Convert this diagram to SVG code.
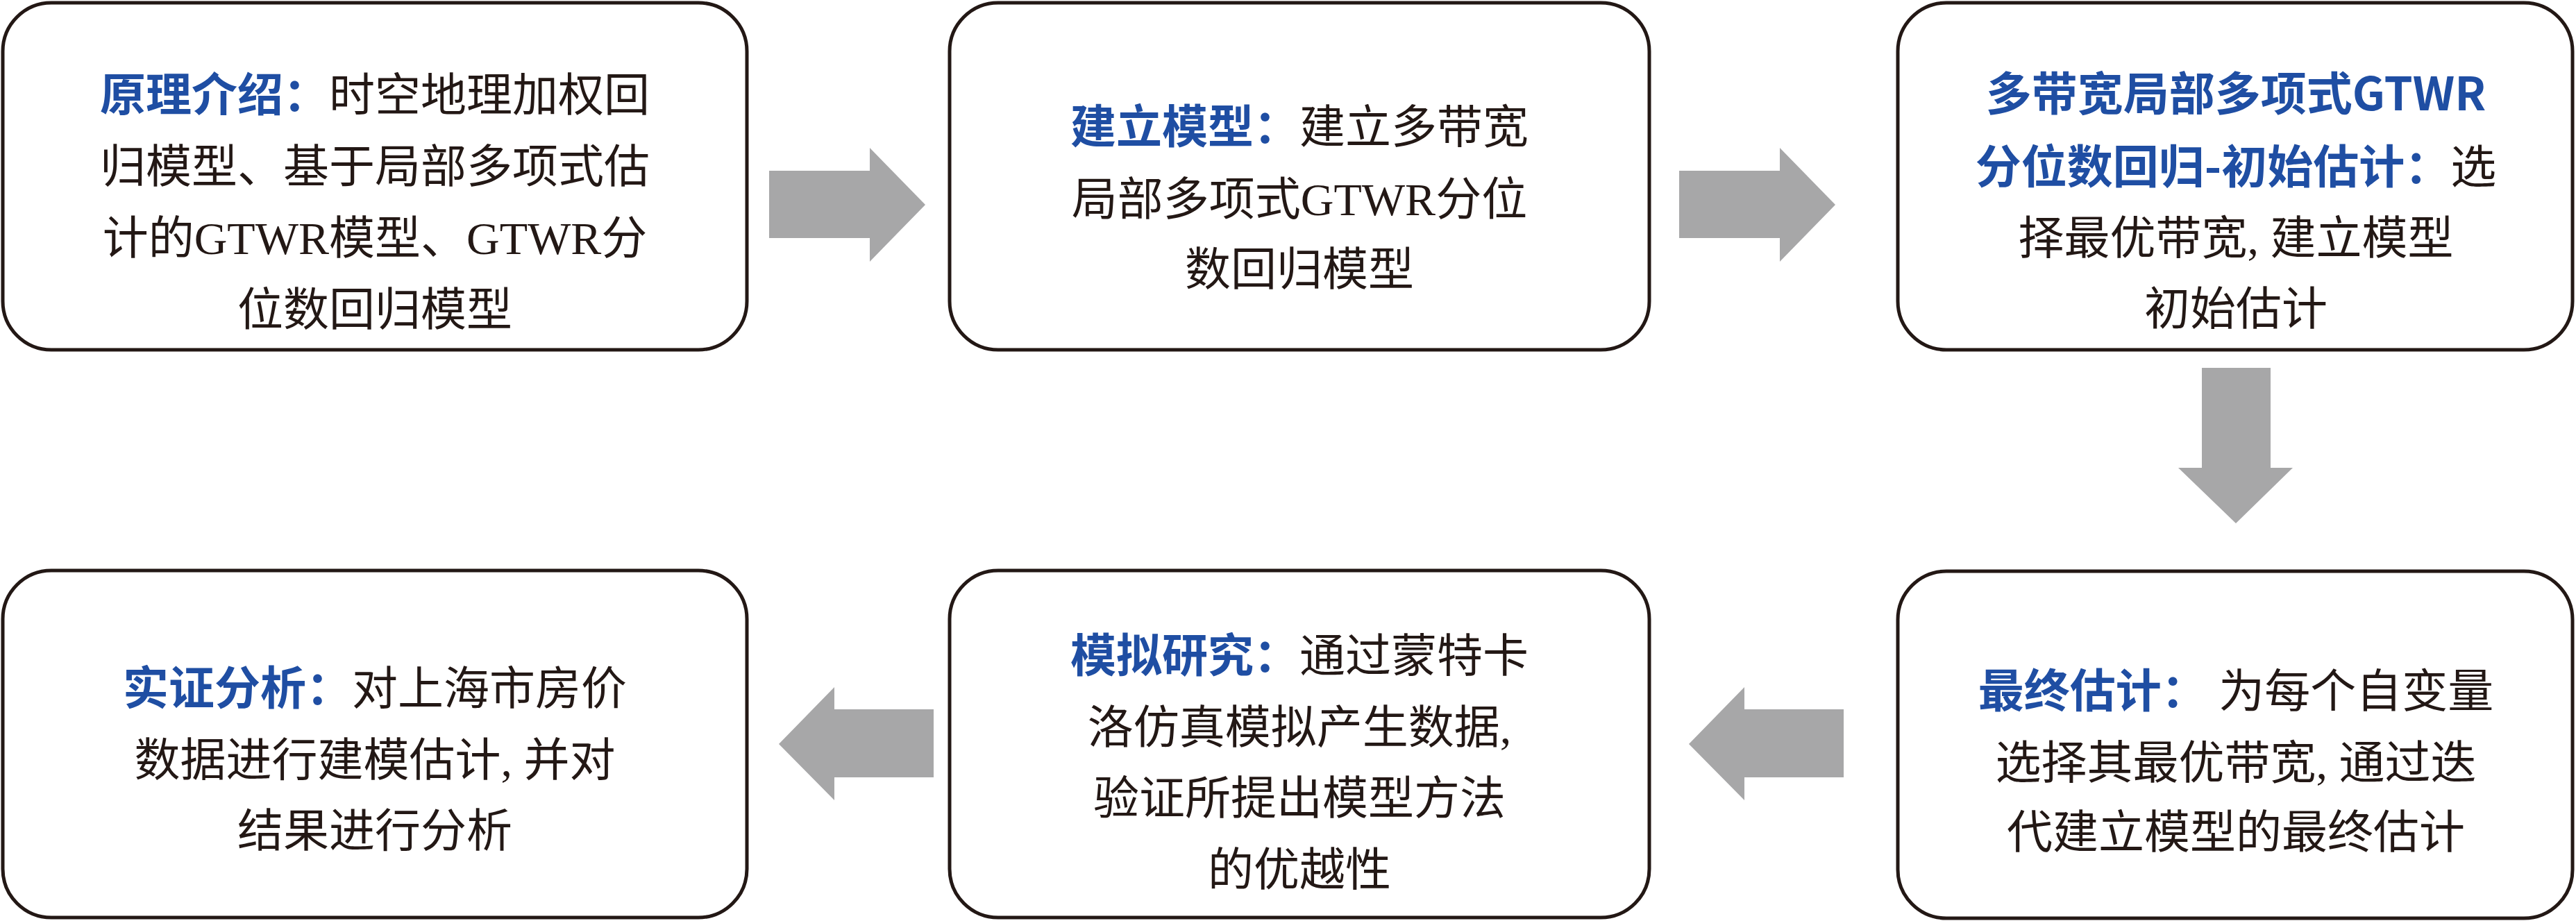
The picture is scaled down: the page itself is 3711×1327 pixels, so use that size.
<svg xmlns="http://www.w3.org/2000/svg" width="3711" height="1327" viewBox="0 0 3711 1327">
<style>
.box{fill:#fff;stroke:#231815;stroke-width:5}
.t{font-family:"Liberation Serif","Noto Sans CJK SC",serif;font-size:66px;fill:#231815;text-anchor:middle}
.b{font-family:"Noto Sans CJK SC","Liberation Sans",sans-serif;font-weight:bold;fill:#1f4ea3}
.ar{fill:#a7a7a8}
</style>
<rect width="3711" height="1327" fill="#fff"/>
<g id="n1"><rect class="box" x="4" y="4" width="1072" height="500" rx="70"/>
<text class="t" y="160"><tspan x="540"><tspan class="b">原理介绍：</tspan>时空地理加权回</tspan><tspan x="540" y="263">归模型、基于局部多项式估</tspan><tspan x="540" y="366">计的GTWR模型、GTWR分</tspan><tspan x="540" y="469">位数回归模型</tspan></text></g>
<g id="n2"><rect class="box" x="1368" y="4" width="1008" height="500" rx="70"/>
<text class="t" y="206"><tspan x="1872"><tspan class="b">建立模型：</tspan>建立多带宽</tspan><tspan x="1872" y="310">局部多项式GTWR分位</tspan><tspan x="1872" y="411">数回归模型</tspan></text></g>
<g id="n3"><rect class="box" x="2734" y="4" width="972" height="500" rx="70"/>
<text class="t" y="159"><tspan x="3221" class="b">多带宽局部多项式GTWR</tspan><tspan x="3221" y="264"><tspan class="b">分位数回归-初始估计：</tspan>选</tspan><tspan x="3221" y="366">择最优带宽, 建立模型</tspan><tspan x="3221" y="468">初始估计</tspan></text></g>
<g id="n4"><rect class="box" x="2734" y="823" width="972" height="500" rx="70"/>
<text class="t" y="1019"><tspan x="3221"><tspan class="b">最终估计：</tspan> 为每个自变量</tspan><tspan x="3221" y="1122">选择其最优带宽, 通过迭</tspan><tspan x="3221" y="1222">代建立模型的最终估计</tspan></text></g>
<g id="n5"><rect class="box" x="1368" y="822" width="1008" height="500" rx="70"/>
<text class="t" y="968"><tspan x="1872"><tspan class="b">模拟研究：</tspan>通过蒙特卡</tspan><tspan x="1872" y="1071">洛仿真模拟产生数据,</tspan><tspan x="1872" y="1173">验证所提出模型方法</tspan><tspan x="1872" y="1276">的优越性</tspan></text></g>
<g id="n6"><rect class="box" x="4" y="822" width="1072" height="500" rx="70"/>
<text class="t" y="1015"><tspan x="540"><tspan class="b">实证分析：</tspan>对上海市房价</tspan><tspan x="540" y="1118">数据进行建模估计, 并对</tspan><tspan x="540" y="1220">结果进行分析</tspan></text></g>
<g id="connectors">
<polygon class="ar" points="1108,246 1253,246 1253,213 1333,295 1253,377 1253,343 1108,343"/>
<polygon class="ar" points="2419,246 2564,246 2564,213 2644,295 2564,377 2564,343 2419,343"/>
<polygon class="ar" points="3172,530 3271,530 3271,674 3303,674 3221,754 3138,674 3172,674"/>
<polygon class="ar" points="2656,1022 2513,1022 2513,990 2433,1072 2513,1153 2513,1120 2656,1120"/>
<polygon class="ar" points="1345,1022 1202,1022 1202,990 1122,1072 1202,1153 1202,1120 1345,1120"/>
</g>
</svg>
